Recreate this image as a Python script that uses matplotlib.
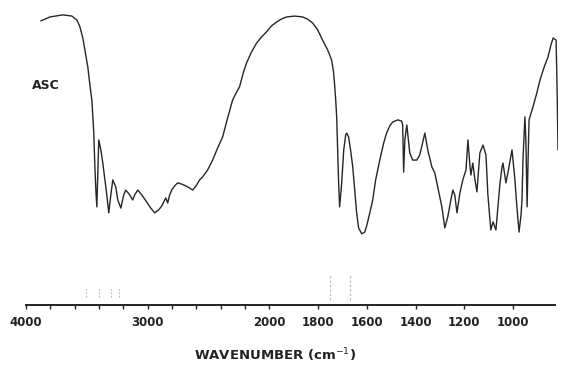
import numpy as np
import matplotlib
matplotlib.use("Agg")
import matplotlib.pyplot as plt

# IR spectrum of ASC (wavenumber in cm-1, transmittance in %)
wavenumber = [3877, 3803, 3697, 3623, 3582, 3557, 3533, 3516, 3492, 3475, 3459, 3443,
              3434, 3426, 3418, 3410, 3402, 3385, 3369, 3352, 3336, 3320, 3303, 3287,
              3262, 3246, 3221, 3197, 3180, 3148, 3123, 3107, 3082, 3049, 3008, 2975,
              2943, 2910, 2885, 2852, 2836, 2820, 2803, 2779, 2754, 2721, 2688, 2656,
              2631, 2598, 2574, 2549, 2508, 2467, 2426, 2385, 2344, 2303, 2270, 2246,
              2213, 2188, 2148, 2106, 2066, 2025, 1992, 1971, 1951, 1930, 1897, 1864,
              1844, 1823, 1802, 1782, 1761, 1745, 1737, 1733, 1728, 1724, 1720, 1716,
              1712, 1704, 1695, 1687, 1683, 1675, 1667, 1658, 1650, 1642, 1634, 1621,
              1609, 1601, 1588, 1576, 1564, 1547, 1531, 1519, 1506, 1494, 1473, 1457,
              1453, 1449, 1444, 1436, 1424, 1412, 1395, 1383, 1375, 1362, 1350, 1333,
              1321, 1309, 1292, 1280, 1268, 1255, 1247, 1239, 1230, 1218, 1206, 1193,
              1185, 1177, 1173, 1165, 1156, 1148, 1136, 1123, 1111, 1103, 1091, 1082,
              1070, 1062, 1054, 1045, 1041, 1029, 1021, 1004, 992, 984, 975, 967,
              963, 959, 951, 947, 942, 938, 934, 918, 901, 889, 872, 856,
              844, 835, 823, 819, 815]
transmittance = [94.7, 96.0, 96.7, 96.3, 95.0, 92.7, 89.0, 85.0, 79.3, 73.3, 68.3, 57.3,
                 46.0, 38.3, 32.7, 43.3, 55.0, 51.7, 47.3, 41.7, 36.7, 30.7, 36.7, 41.7,
                 39.3, 35.0, 32.3, 36.7, 38.3, 36.7, 35.0, 36.7, 38.3, 36.7, 34.3, 32.3,
                 30.7, 31.7, 33.0, 35.7, 34.0, 36.7, 38.3, 39.7, 40.7, 40.3, 39.7, 39.0,
                 38.3, 40.0, 41.7, 42.7, 45.0, 48.3, 52.3, 56.0, 62.3, 68.3, 71.0, 72.7,
                 77.7, 80.7, 84.3, 87.3, 89.3, 91.0, 93.0, 94.3, 95.3, 96.0, 96.3, 96.0,
                 95.3, 94.0, 91.7, 88.3, 85.0, 81.7, 77.7, 74.0, 68.3, 62.7, 51.7, 40.7,
                 32.7, 40.0, 51.7, 56.7, 57.3, 56.0, 51.7, 46.0, 38.3, 30.7, 25.7, 23.7,
                 24.3, 26.3, 30.7, 35.0, 41.7, 48.3, 54.0, 57.3, 59.7, 61.0, 61.7, 61.3,
                 60.0, 44.3, 55.0, 60.0, 50.7, 48.3, 48.3, 50.0, 52.7, 57.3, 51.7, 46.0,
                 44.0, 39.3, 32.7, 25.7, 29.3, 35.0, 38.3, 36.7, 30.7, 37.3, 41.7, 45.0,
                 55.0, 46.7, 43.3, 47.3, 41.7, 37.7, 50.7, 53.3, 50.0, 36.7, 25.0, 27.7,
                 25.0, 32.7, 40.0, 46.0, 47.3, 40.7, 44.0, 51.7, 41.7, 32.7, 24.3, 30.0,
                 35.0, 48.3, 62.7, 55.0, 32.7, 48.3, 61.7, 66.0, 71.0, 75.0, 79.3, 82.7,
                 86.7, 89.0, 88.3, 72.7, 51.7]

# faint peak markers drawn above the axis
marks_oh = [3508, 3402, 3303, 3238]
marks_co = [1753, 1671]

major_ticks = [4000, 3000, 2000, 1800, 1600, 1400, 1200, 1000]
minor_ticks = [3800, 3600, 3400, 3200, 2800, 2600, 2400, 2200]


# chart paper: scale doubles below 2000 cm-1
def fwd(w):
    w = np.asarray(w, dtype=float)
    return np.where(w >= 2000, w, 2 * w - 2000)


def inv(u):
    u = np.asarray(u, dtype=float)
    return np.where(u >= 2000, u, (u + 2000) / 2)


fig = plt.figure(figsize=(5.61, 3.65), dpi=100)
ax = fig.add_axes([0.0463, 0.1644, 0.9484, 0.822])
ax.set_xscale("function", functions=(fwd, inv))

ax.plot(wavenumber, transmittance, color="#262626", lw=1.0)
ax.vlines(marks_oh, 2.5, 6, colors="#b8b8b8", linestyles=(0, (1.5, 1.5)), lw=0.8)
ax.vlines(marks_co, 1.5, 10, colors="#b8b8b8", linestyles=(0, (2, 2)), lw=0.8)

ax.text(3835, 73.3, "ASC", ha="center", va="center", fontsize=9,
        fontweight="bold", color="#222222")

ax.set_xlim(4000, 815)
ax.set_ylim(0, 100)
ax.set_xticks(major_ticks)
ax.set_xticklabels([str(t) for t in major_ticks], fontweight="bold")
ax.set_xticks(minor_ticks, minor=True)
ax.tick_params(axis="x", which="both", direction="out", length=3, width=1,
               color="#222222", labelsize=8.5, pad=5, labelcolor="#222222")
ax.set_yticks([])
for side in ["top", "right", "left"]:
    ax.spines[side].set_visible(False)
ax.spines["bottom"].set_linewidth(1.4)
ax.spines["bottom"].set_color("#222222")
ax.spines["bottom"].set_bounds(4000, 826)

fig.text(0.49, 0.027, "WAVENUMBER (cm$^{-1}$)", ha="center", va="center",
         fontsize=9.5, fontweight="bold", color="#222222")

fig.savefig("out.png", dpi=100)
